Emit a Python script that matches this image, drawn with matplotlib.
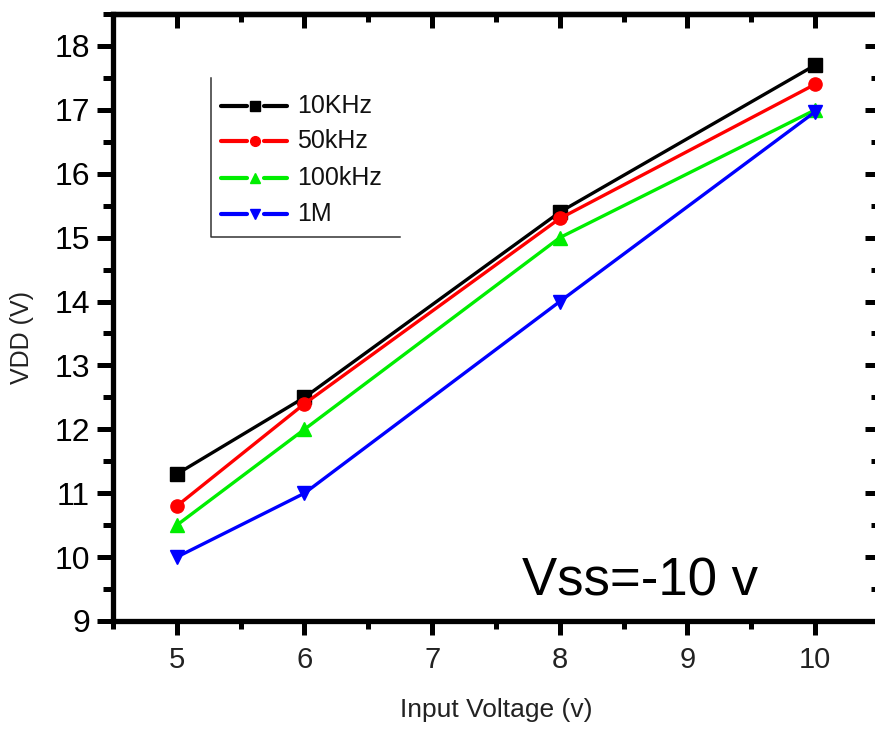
import matplotlib
matplotlib.use("Agg")
import matplotlib.pyplot as plt
from matplotlib.ticker import MultipleLocator, NullFormatter

plt.rcParams['font.family'] = ['Liberation Sans', 'DejaVu Sans']

# ---- data ----
x_vals = [5, 6, 8, 10]
series_labels = ["10KHz", "50kHz", "100kHz", "1M"]
vdd_10k = [11.3, 12.5, 15.4, 17.7]
vdd_50k = [10.8, 12.4, 15.3, 17.4]
vdd_100k = [10.5, 12.0, 15.0, 17.0]
vdd_1m = [10.0, 11.0, 14.0, 16.97]
series_colors = ["#000000", "#ff0000", "#00ee00", "#0000ff"]
series_markers = ["s", "o", "^", "v"]
x_ticks = [5, 6, 7, 8, 9, 10]
y_ticks = [9, 10, 11, 12, 13, 14, 15, 16, 17, 18]

fig = plt.figure(figsize=(8.75, 7.29), dpi=100)
ax = fig.add_axes([0.12914, 0.14815, 0.87543, 0.83265])

all_series = [vdd_10k, vdd_50k, vdd_100k, vdd_1m]
for ys, c, m in zip(all_series, series_colors, series_markers):
    ax.plot(x_vals, ys, color=c, lw=2.4, marker=m, markersize=9.5,
            markerfacecolor=c, markeredgecolor=c, clip_on=False, zorder=3)

ax.set_xlim(4.5, 10.5)
ax.set_ylim(9, 18.5)
ax.set_xticks(x_ticks)
ax.set_yticks(y_ticks)
ax.xaxis.set_minor_locator(MultipleLocator(0.5))
ax.yaxis.set_minor_locator(MultipleLocator(0.5))

for s in ax.spines.values():
    s.set_linewidth(3.8)

ax.tick_params(axis='x', which='major', direction='out', length=10, width=3.6,
               labelsize=21, pad=8, labelcolor='#222222')
ax.tick_params(axis='x', which='minor', direction='out', length=6, width=3.6)
ax.tick_params(axis='y', which='major', direction='out', length=11.5, width=3.6,
               labelsize=23, pad=5)
ax.tick_params(axis='y', which='minor', direction='out', length=7, width=3.6)

# top / right ticks pointing inward
top = ax.secondary_xaxis('top')
top.set_xticks(x_ticks)
top.xaxis.set_minor_locator(MultipleLocator(0.5))
top.xaxis.set_major_formatter(NullFormatter())
top.tick_params(axis='x', which='major', direction='in', length=10, width=3.6)
top.tick_params(axis='x', which='minor', direction='in', length=6, width=3.6)
top.spines['top'].set_linewidth(3.8)

right = ax.secondary_yaxis('right')
right.set_yticks(y_ticks)
right.yaxis.set_minor_locator(MultipleLocator(0.5))
right.yaxis.set_major_formatter(NullFormatter())
right.tick_params(axis='y', which='major', direction='in', length=10, width=3.6)
right.tick_params(axis='y', which='minor', direction='in', length=6, width=3.6)
right.spines['right'].set_linewidth(3.8)

# ---- manual legend (Origin style) ----
lx0, lx1, ly0, ly1 = 0.1279, 0.3747, 0.6326, 0.8946
ax.plot([lx0, lx0, lx1], [ly1, ly0, ly0], color='#333333', lw=1.1,
        transform=ax.transAxes, clip_on=False)
row_y = [0.8484, 0.7908, 0.7298, 0.6705]
for lab, c, m, yy in zip(series_labels, series_colors, series_markers, row_y):
    ax.plot([0.1410, 0.1749], [yy, yy], color=c, lw=3, solid_capstyle='round',
            transform=ax.transAxes)
    ax.plot([0.1968, 0.2272], [yy, yy], color=c, lw=3, solid_capstyle='round',
            transform=ax.transAxes)
    ax.plot([0.1858], [yy], marker=m, color=c, markersize=7, linestyle='none',
            transform=ax.transAxes)
    ax.text(0.2402, yy, lab, fontsize=18, va='center', ha='left',
            color='#111111', transform=ax.transAxes)

ax.text(0.534, 0.0428, "Vss=-10 v", fontsize=38, ha='left', va='baseline',
        transform=ax.transAxes)

fig.text(0.5669, 0.026, "Input Voltage (v)", fontsize=19, ha='center', va='center',
         color='#222222')
fig.text(0.0251, 0.5364, "VDD (V)", fontsize=18, ha='center', va='center',
         rotation=90, color='#222222')

fig.savefig("out.png", dpi=100)
